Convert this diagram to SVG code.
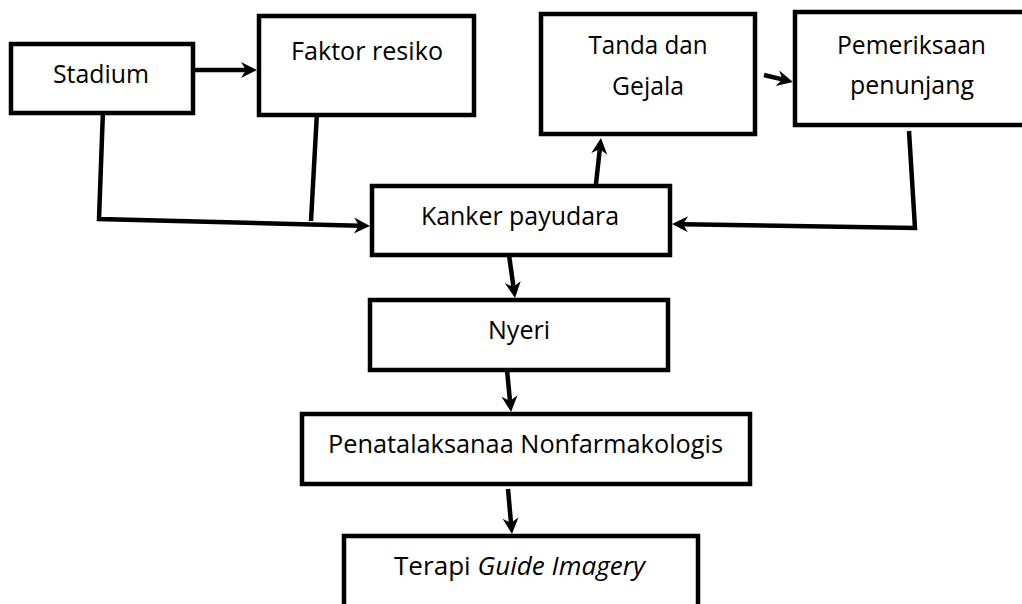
<svg xmlns="http://www.w3.org/2000/svg" width="1022" height="604" viewBox="0 0 1022 604">
<style>
.box{fill:#fff;stroke:#000;stroke-width:4.5}
.lbl{font-family:"Open Sans","Noto Sans",sans-serif;font-size:25px;fill:#000;text-anchor:middle}
.con{fill:none;stroke:#000;stroke-width:4.5;stroke-linejoin:miter}
</style>
<defs>
<marker id="ah" markerUnits="userSpaceOnUse" markerWidth="18" markerHeight="18" refX="5" refY="8" orient="auto" overflow="visible">
<path d="M0,0 L16,8 L0,16 L5,8 Z" fill="#000"/>
</marker>
</defs>
<rect width="1022" height="604" fill="#fff"/>
<g id="connectors">
<line class="con" x1="195" y1="70" x2="246" y2="70" marker-end="url(#ah)"/>
<polyline class="con" points="103,110 99,219 359,225.7" marker-end="url(#ah)"/>
<polyline class="con" points="317,112 311,221"/>
<line class="con" x1="596" y1="184" x2="599.8" y2="149" marker-end="url(#ah)"/>
<line class="con" x1="764" y1="75" x2="782.3" y2="79.4" marker-end="url(#ah)"/>
<polyline class="con" points="909,131 915,228 683,224.2" marker-end="url(#ah)"/>
<line class="con" x1="509" y1="255" x2="513.5" y2="287" marker-end="url(#ah)"/>
<line class="con" x1="507" y1="370" x2="510" y2="401" marker-end="url(#ah)"/>
<line class="con" x1="508" y1="489" x2="511" y2="523" marker-end="url(#ah)"/>
</g>
<g id="stadium">
<rect class="box" x="11" y="44" width="182" height="69"/>
<text class="lbl" x="101" y="83" textLength="96" lengthAdjust="spacingAndGlyphs">Stadium</text>
</g>
<g id="faktor-resiko">
<rect class="box" x="259" y="16" width="215" height="99"/>
<text class="lbl" x="367" y="60" textLength="152" lengthAdjust="spacingAndGlyphs">Faktor resiko</text>
</g>
<g id="tanda-gejala">
<rect class="box" x="541" y="14" width="214" height="120"/>
<text class="lbl" x="648" y="54" textLength="119" lengthAdjust="spacingAndGlyphs">Tanda dan</text>
<text class="lbl" x="648" y="95" textLength="72" lengthAdjust="spacingAndGlyphs">Gejala</text>
</g>
<g id="pemeriksaan">
<rect class="box" x="795" y="12" width="240" height="113"/>
<text class="lbl" x="911.5" y="54" textLength="149" lengthAdjust="spacingAndGlyphs">Pemeriksaan</text>
<text class="lbl" x="912" y="94" textLength="124" lengthAdjust="spacingAndGlyphs">penunjang</text>
</g>
<g id="kanker">
<rect class="box" x="372" y="186" width="298" height="69"/>
<text class="lbl" x="520" y="225" textLength="198" lengthAdjust="spacingAndGlyphs">Kanker payudara</text>
</g>
<g id="nyeri">
<rect class="box" x="370" y="300" width="298" height="70"/>
<text class="lbl" x="519" y="339" textLength="62" lengthAdjust="spacingAndGlyphs">Nyeri</text>
</g>
<g id="penatalaksanaan">
<rect class="box" x="302" y="414" width="448" height="70"/>
<text class="lbl" x="525.5" y="453" textLength="395" lengthAdjust="spacingAndGlyphs">Penatalaksanaa Nonfarmakologis</text>
</g>
<g id="terapi">
<rect class="box" x="344" y="536" width="354" height="100"/>
<text class="lbl" x="519.5" y="575" textLength="251" lengthAdjust="spacingAndGlyphs">Terapi <tspan font-style="italic">Guide Imagery</tspan></text>
</g>
</svg>
